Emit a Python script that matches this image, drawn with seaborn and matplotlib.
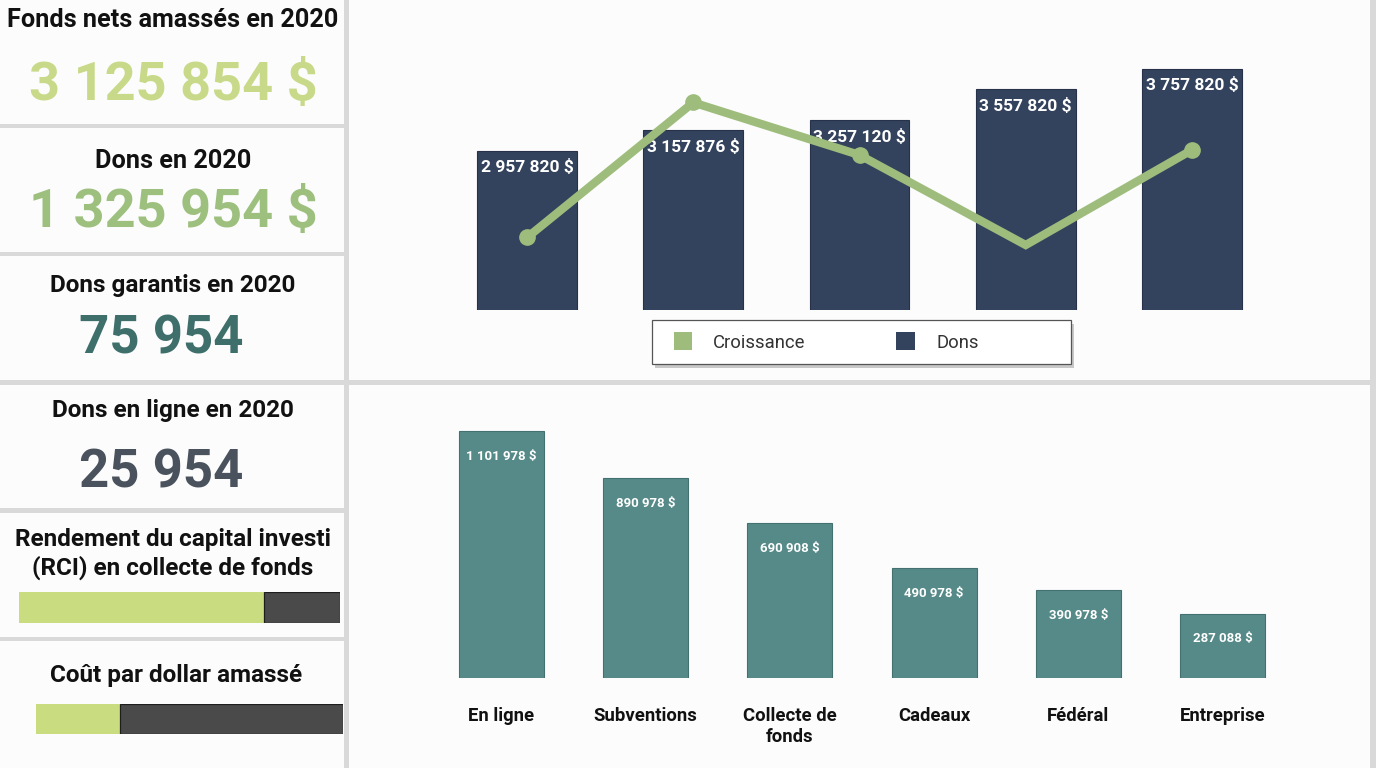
import matplotlib
matplotlib.use("Agg")
import matplotlib.pyplot as plt
import seaborn as sns
from matplotlib.patches import Rectangle, Patch

sns.set_theme(style="white")
plt.rcParams["font.family"] = ["Roboto", "DejaVu Sans"]

# ---------------- data ----------------
kpi_titles = ["Fonds nets amassés en 2020", "Dons en 2020",
              "Dons garantis en 2020", "Dons en ligne en 2020"]
kpi_values = ["3 125 854 $", "1 325 954 $", "75 954", "25 954"]
kpi_colors = ["#c8da8a", "#9dc07f", "#3f6f6b", "#4a525d"]

gauge_titles = [["Rendement du capital investi", "(RCI) en collecte de fonds"],
                ["Coût par dollar amassé"]]
gauge_shares = [0.763, 0.274]

periods = ["P1", "P2", "P3", "P4", "P5"]
dons = [2957820, 3157876, 3257120, 3557820, 3757820]
croissance = [2.9, 8.3, 6.2, 2.6, 6.4]

sources = ["En ligne", "Subventions", "Collecte de\nfonds", "Cadeaux", "Fédéral", "Entreprise"]
montants = [1101978, 890978, 690908, 490978, 390978, 287088]

# ---------------- styles ----------------
W, H = 1376, 768
BG = "#fcfcfc"
SEP = "#d9d9d9"
NAVY = "#34435d"
TEAL = "#568a88"
LINE_GREEN = "#9ebd7c"
BAR_GREEN = "#c9dc80"
DARK = "#4a4a4a"


def fmt(v):
    return f"{v:,}".replace(",", " ") + " $"


def frect(x0, y0, x1, y1):
    return [x0 / W, 1 - y1 / H, (x1 - x0) / W, (y1 - y0) / H]


def fy(y):
    return 1 - y / H


fig = plt.figure(figsize=(W / 100, H / 100), dpi=100, facecolor=SEP)

panels = [(0, 0, 344, 124), (0, 128, 344, 252), (0, 256, 344, 380),
          (0, 385, 344, 508), (0, 513, 344, 637), (0, 641, 344, 768),
          (349, 0, 1370, 380), (349, 385, 1370, 768)]
for x0, y0, x1, y1 in panels:
    r = frect(x0, y0, x1, y1)
    fig.patches.append(Rectangle((r[0], r[1]), r[2], r[3], transform=fig.transFigure,
                                 facecolor=BG, edgecolor="none", zorder=-10))

# ---------------- KPI cards ----------------
title_base = [27, 168, 292, 417]
title_x = [173, 173.5, 172.5, 173]
title_size = [18.2, 18.2, 17.5, 17.5]
value_base = [100, 227, 353, 487]
value_x = [173, 173, 161.5, 161.5]
value_size = [39, 39, 38, 38]
for i in range(4):
    fig.text(title_x[i] / W, fy(title_base[i]), kpi_titles[i], ha="center", va="baseline",
             fontsize=title_size[i], fontweight="bold", color="#111111")
    fig.text(value_x[i] / W, fy(value_base[i]), kpi_values[i], ha="center", va="baseline",
             fontsize=value_size[i], fontweight="bold", color=kpi_colors[i])

# gauges
gauge_title_base = [[546, 575], [682]]
gauge_title_x = [173, 176]
gauge_boxes = [(19, 592, 340, 623), (36, 704, 343, 734)]
for g in range(2):
    for line, yb in zip(gauge_titles[g], gauge_title_base[g]):
        fig.text(gauge_title_x[g] / W, fy(yb), line, ha="center", va="baseline",
                 fontsize=17.5, fontweight="bold", color="#111111")
    gax = fig.add_axes(frect(*gauge_boxes[g]))
    gax.set_zorder(2)
    gax.barh([0], [gauge_shares[g]], height=1.0, color=BAR_GREEN, edgecolor="none")
    gax.barh([0], [1 - gauge_shares[g]], left=[gauge_shares[g]], height=1.0,
             color=DARK, edgecolor="#1e1e1e", linewidth=0.9)
    gax.set_xlim(0, 1)
    gax.set_ylim(-0.5, 0.5)
    gax.axis("off")

# ---------------- top chart ----------------
ax1 = fig.add_axes(frect(444, 60, 1275, 310))
ax1.set_zorder(2)
ax1.patch.set_alpha(0)
sns.barplot(x=periods, y=dons, color=NAVY, saturation=1, width=0.6,
            edgecolor="#27324a", linewidth=0.8, ax=ax1)
ax1.set_xlim(-0.5, 4.5)
ax1.set_ylim(1.403e6, 3.844e6)
ax1.axis("off")
for i, v in enumerate(dons):
    ax1.annotate(fmt(v), (i, v), xytext=(0, -12), textcoords="offset points",
                 ha="center", va="center", color="white", fontsize=12.5, fontweight="bold")

ax2 = fig.add_axes(frect(444, 60, 1275, 310))
ax2.set_zorder(3)
ax2.patch.set_alpha(0)
ax2.plot(range(len(croissance)), croissance, color=LINE_GREEN, linewidth=6,
         marker="o", markersize=11, markevery=[0, 1, 2, 4], solid_joinstyle="miter",
         solid_capstyle="butt")
ax2.set_ylim(0, 10)
ax2.set_xlim(-0.5, 4.5)
ax2.axis("off")

# legend frame with shadow
shadow = frect(655, 324, 1074, 368)
fig.patches.append(Rectangle((shadow[0], shadow[1]), shadow[2], shadow[3],
                             transform=fig.transFigure, facecolor="#c8c8c8",
                             edgecolor="none", zorder=1))
lf = frect(652, 320, 1071, 364)
fig.patches.append(Rectangle((lf[0], lf[1]), lf[2], lf[3], transform=fig.transFigure,
                             facecolor="white", edgecolor="#555555", linewidth=0.9, zorder=1.5))
handles = [Patch(facecolor=LINE_GREEN, edgecolor="none", label="Croissance"),
           Patch(facecolor=NAVY, edgecolor="none", label="Dons")]
leg = fig.legend(handles=handles, loc="center left", bbox_to_anchor=(657 / W, fy(342)),
                 ncol=2, frameon=False, fontsize=13.3, handlelength=1.0, handleheight=1.1,
                 handletextpad=1.15, columnspacing=4.9, labelcolor="#333333")
leg.set_zorder(4)

# ---------------- bottom chart ----------------
ax3 = fig.add_axes(frect(429, 420, 1295, 678))
ax3.set_zorder(2)
ax3.patch.set_alpha(0)
sns.barplot(x=sources, y=montants, color=TEAL, saturation=1, width=0.59,
            edgecolor="#44716f", linewidth=0.8, ax=ax3)
ax3.set_xlim(-0.5, 5.5)
ax3.set_ylim(0, 1.152e6)
for s in ax3.spines.values():
    s.set_visible(False)
ax3.set_yticks([])
ax3.set_xlabel("")
ax3.set_ylabel("")
ax3.set_xticks(range(len(sources)))
ax3.set_xticklabels(sources, fontsize=13.3, fontweight="bold", color="#111111",
                    linespacing=1.2)
ax3.tick_params(axis="x", length=0, pad=21)
for i, v in enumerate(montants):
    ax3.annotate(fmt(v), (i, v), xytext=(0, -18), textcoords="offset points",
                 ha="center", va="center", color="white", fontsize=9.5, fontweight="bold")

fig.savefig("out.png", dpi=100, facecolor=fig.get_facecolor())
